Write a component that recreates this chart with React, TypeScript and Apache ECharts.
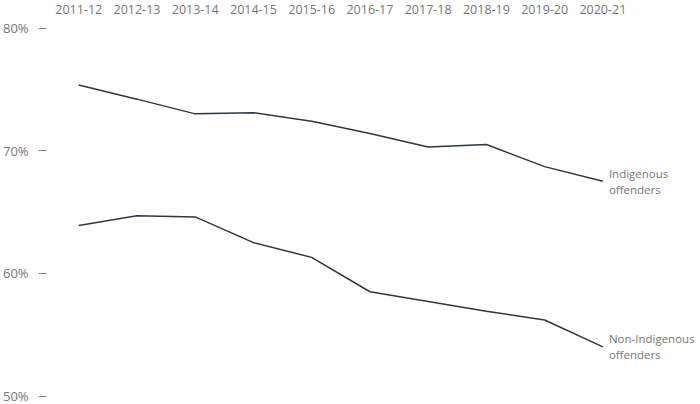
import React, { useEffect, useRef } from "react";
import * as echarts from "echarts";

const years = ["2011-12", "2012-13", "2013-14", "2014-15", "2015-16", "2016-17", "2017-18", "2018-19", "2019-20", "2020-21"];
const indigenous = [75.35, 74.2, 73.0, 73.1, 72.4, 71.4, 70.3, 70.5, 68.7, 67.5];
const nonIndigenous = [63.9, 64.7, 64.6, 62.5, 61.3, 58.5, 57.7, 56.9, 56.2, 54.0];
const yTicks = [50, 60, 70, 80];

const LINE = "#2c3848";
const TEXT = "#777777";
const FONT = "Open Sans";

export default function App() {
  const ref = useRef<HTMLDivElement>(null);
  useEffect(() => {
    if (!ref.current) return;
    const chart = echarts.init(ref.current, undefined, { renderer: "svg" });
    const endLabel = (text: string) => ({
      show: true,
      formatter: text,
      color: TEXT,
      fontFamily: FONT,
      fontSize: 11.5,
      lineHeight: 16,
      distance: 6,
    });
    chart.setOption({
      animation: false,
      backgroundColor: "#ffffff",
      grid: { left: 47, right: 68, top: 28, bottom: 8, containLabel: false },
      xAxis: {
        type: "category",
        position: "top",
        data: years,
        boundaryGap: true,
        axisLine: { show: false },
        axisTick: { show: false },
        splitLine: { show: false },
        axisLabel: { color: TEXT, fontFamily: FONT, fontSize: 12.5, margin: 12, interval: 0 },
      },
      yAxis: {
        type: "value",
        min: yTicks[0],
        max: yTicks[yTicks.length - 1],
        interval: 10,
        offset: 3,
        axisLine: { show: false },
        axisTick: { show: true, length: 8, lineStyle: { color: "#888888", width: 1 } },
        splitLine: { show: false },
        axisLabel: {
          color: TEXT,
          fontFamily: FONT,
          fontSize: 13,
          margin: 18,
          formatter: (v: number) => `${v}%`,
        },
      },
      series: [
        {
          type: "line",
          name: "Indigenous offenders",
          data: indigenous,
          symbol: "none",
          lineStyle: { color: LINE, width: 1.5 },
          endLabel: endLabel("Indigenous\noffenders"),
        },
        {
          type: "line",
          name: "Non-Indigenous offenders",
          data: nonIndigenous,
          symbol: "none",
          lineStyle: { color: LINE, width: 1.5 },
          endLabel: endLabel("Non-Indigenous\noffenders"),
        },
      ],
    });
    return () => chart.dispose();
  }, []);
  return (
    <div
      ref={ref}
      style={{ position: "absolute", left: 0, top: 0, width: 700, height: 404, background: "#fff" }}
    />
  );
}
